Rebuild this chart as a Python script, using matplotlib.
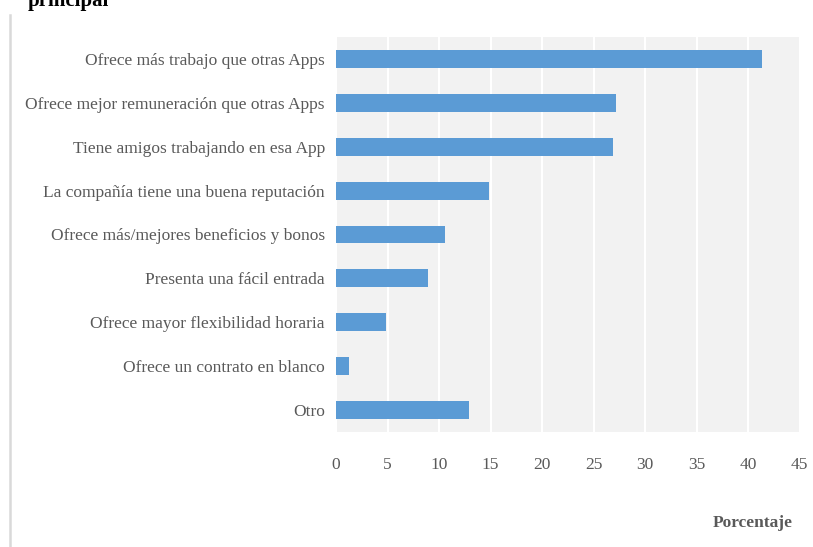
import numpy as np
import matplotlib.pyplot as plt
from matplotlib.lines import Line2D

# datos
motivos = ['Ofrece más trabajo que otras Apps',
           'Ofrece mejor remuneración que otras Apps',
           'Tiene amigos trabajando en esa App',
           'La compañía tiene una buena reputación',
           'Ofrece más/mejores beneficios y bonos',
           'Presenta una fácil entrada',
           'Ofrece mayor flexibilidad horaria',
           'Ofrece un contrato en blanco',
           'Otro']
porcentaje = [41.4, 27.2, 26.9, 14.9, 10.6, 8.9, 4.9, 1.3, 12.9]
xticks = [0, 5, 10, 15, 20, 25, 30, 35, 40, 45]

plt.rcParams['font.family'] = ['Liberation Serif', 'DejaVu Serif']

gris = '#595959'
fig = plt.figure(figsize=(8.13, 5.47), dpi=100)
ax = fig.add_axes([336/813, 1-432/547, 463.5/813, 395/547])
ax.set_facecolor('#f2f2f2')

y = np.arange(len(motivos))
ax.barh(y, porcentaje, height=0.41, color='#5b9bd5', zorder=3)
ax.set_ylim(len(motivos)-0.5, -0.5)
ax.set_xlim(0, 45)
ax.set_yticks(y)
ax.set_yticklabels(motivos, fontsize=12.5, color=gris)
ax.set_xticks(xticks)
ax.set_xticklabels([str(t) for t in xticks], fontsize=12.5, color=gris)
ax.tick_params(axis='both', length=0)
ax.tick_params(axis='y', pad=8)
ax.tick_params(axis='x', pad=18)
ax.grid(axis='x', color='white', linewidth=1.5, zorder=1)
for s in ax.spines.values():
    s.set_visible(False)

fig.text(753/813, 1-523/547, 'Porcentaje', ha='center', va='center',
         fontsize=12.5, fontweight='bold', color=gris)
fig.text(28/813, 1-6/547, 'principal', ha='left', va='baseline',
         fontsize=15, fontweight='bold', color='black')
fig.add_artist(Line2D([10/813, 10/813], [0, 1-15/547], color='#d9d9d9',
                      linewidth=1.8, transform=fig.transFigure))

plt.savefig('out.png', dpi=100)
